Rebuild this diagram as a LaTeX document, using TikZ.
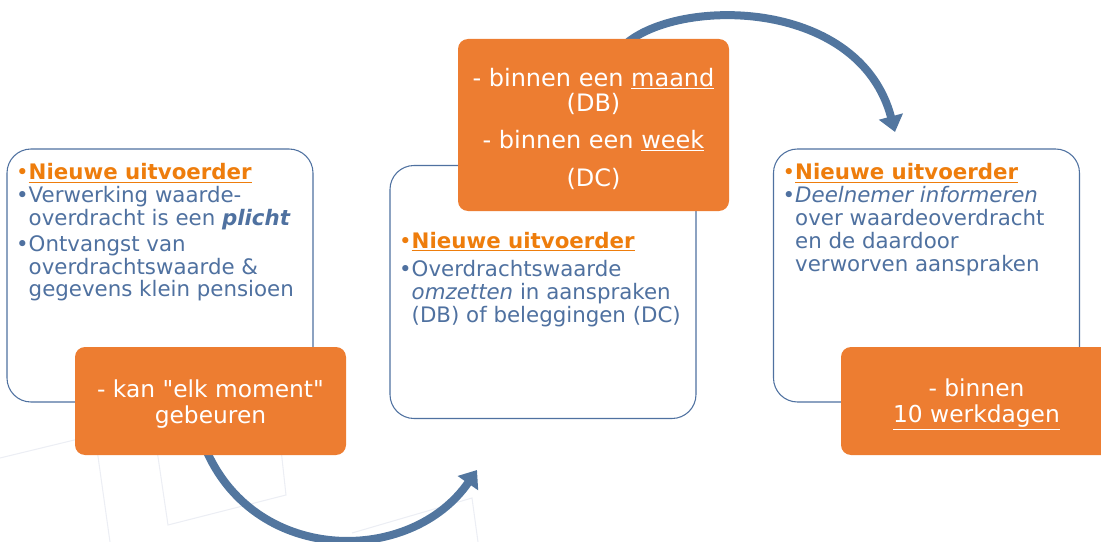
\documentclass[tikz,border=0pt]{standalone}
\usepackage{fontspec}
\setmainfont{DejaVu Sans}
\usetikzlibrary{arrows.meta}
\definecolor{lineblue}{HTML}{4F71A0}
\definecolor{arcblue}{HTML}{52769F}
\definecolor{boxorange}{HTML}{ED7D31}
\definecolor{headorange}{HTML}{EE7D0C}
\definecolor{faint}{HTML}{ECEEF4}
\tikzstyle{arc} = [line width=6pt, arcblue, -{Triangle[width=18pt,length=12pt]}]
\tikzstyle{whitebox} = [draw=lineblue, line width=0.8pt, fill=white, rounded corners=18pt, minimum width=229.5pt, minimum height=189.75pt]
\tikzstyle{orangebox} = [fill=boxorange, rounded corners=7.5pt, minimum width=203.25pt, minimum height=81pt]
\tikzstyle{listtext} = [text=lineblue, align=left, inner sep=0pt, font=\fontsize{16pt}{17pt}\selectfont]
\tikzstyle{boxtext} = [text=white, align=center, inner sep=0pt, font=\fontsize{17.5pt}{19.5pt}\selectfont]
\newcommand{\itm}{\makebox[9.5pt][l]{\textbullet}}
\newcommand{\cnt}{\hspace*{9.5pt}}
\newcommand{\hd}[1]{{\color{headorange}\itm\textbf{\underline{#1}}}}

\begin{document}
\begin{tikzpicture}[x=0.75pt, y=-0.75pt]
        \useasboundingbox (0,0) rectangle (1101,542);
        % faint background squares
        \draw[faint, line width=0.8pt] (0,458) -- (95,435) -- (110,542);
        \draw[faint, line width=0.8pt] (280,440) -- (286,495) -- (168,525) -- (157,450);
        \draw[faint, line width=0.8pt] (352,533) -- (472,498) -- (478,542);

        \node[whitebox] at (160,275.5) (b1) {};
        \node[whitebox] at (543,292) (b2) {};
        \node[whitebox] at (926.5,275.5) (b3) {};

        \node[listtext, anchor=north west] at ([xshift=7pt, yshift=-11pt]b1.north west) (t1) {\hd{Nieuwe uitvoerder}\\[0.5pt]
            \itm Verwerking waarde-\\ \cnt overdracht is een \textbf{\textit{plicht}}\\[2.5pt]
            \itm Ontvangst van\\ \cnt overdrachtswaarde \&\\ \cnt gegevens klein pensioen};
        \node[listtext, anchor=north west, font=\fontsize{16pt}{17.25pt}\selectfont] at ([xshift=7pt, yshift=-50pt]b2.north west) (t2) {\hd{Nieuwe uitvoerder}\\[3.75pt]
            \itm Overdrachtswaarde\\ \cnt \textit{omzetten} in aanspraken\\ \cnt (DB) of beleggingen (DC)};
        \node[listtext, anchor=north west, font=\fontsize{16pt}{17.25pt}\selectfont] at ([xshift=7pt, yshift=-11pt]b3.north west) (t3) {\hd{Nieuwe uitvoerder}\\
            \itm \textit{Deelnemer informeren}\\ \cnt over waardeoverdracht\\ \cnt en de daardoor\\ \cnt verworven aanspraken};

        \coordinate (e1) at (477,470);
        \coordinate (e2) at (895,132);
        \draw[arc] (207,452) .. controls (258,565) and (411,565) .. (e1);
        \draw[arc] (628,42) .. controls (685,-3) and (860,0) .. (e2);

        \node[orangebox] at (210.5,401) (o1) {};
        \node[orangebox, minimum height=129pt] at (593.5,125) (o2) {};
        \node[orangebox] at (976.5,401) (o3) {};

        \node[boxtext] at ([yshift=-2.6pt]o1.center) (s1) {- kan \textquotedbl elk moment\textquotedbl\\ gebeuren};
        \node[boxtext, font=\fontsize{18pt}{18.75pt}\selectfont] at ([yshift=-2.6pt]o2.center) (s2) {- binnen een \underline{maand}\\ (DB)\\[9pt]- binnen een \underline{week}\\[9.75pt] (DC)};
        \node[boxtext] at ([yshift=-2.6pt]o3.center) (s3) {- binnen\\ \underline{10 werkdagen}};
    \end{tikzpicture}
\end{document}
